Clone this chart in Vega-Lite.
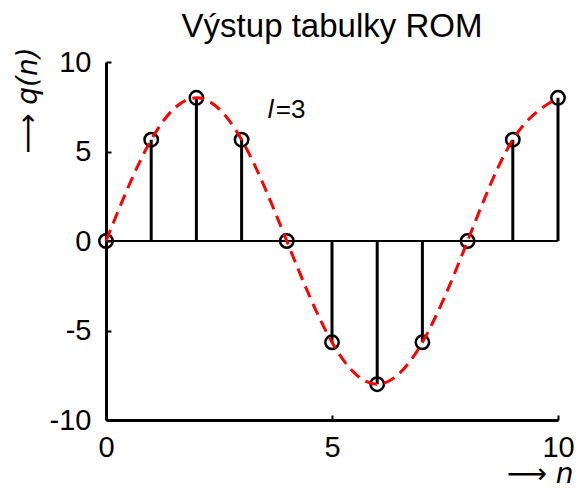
{
  "$schema": "https://vega.github.io/schema/vega-lite/v6.json",
  "autosize": "none",
  "width": 452,
  "height": 358,
  "padding": {"left": 106, "top": 62, "right": 20, "bottom": 68},
  "background": "white",
  "title": {
    "text": "Výstup tabulky ROM",
    "font": "Liberation Sans",
    "fontSize": 33,
    "fontWeight": "normal",
    "color": "black",
    "anchor": "middle",
    "frame": "group",
    "offset": -2
  },
  "config": {
    "view": {"stroke": null},
    "axis": {
      "grid": false,
      "domainColor": "black",
      "domainWidth": 3,
      "tickColor": "black",
      "tickWidth": 2,
      "tickSize": -5,
      "labelFont": "Liberation Sans",
      "labelFontSize": 29,
      "labelColor": "black",
      "titleFont": "DejaVu Sans",
      "titleFontSize": 28,
      "titleFontWeight": "normal",
      "titleFontStyle": "italic",
      "titleColor": "black"
    }
  },
  "data": {
    "values": [
      {"n": 0, "q": 0},
      {"n": 1, "q": 5.657},
      {"n": 2, "q": 8},
      {"n": 3, "q": 5.657},
      {"n": 4, "q": 0},
      {"n": 5, "q": -5.657},
      {"n": 6, "q": -8},
      {"n": 7, "q": -5.657},
      {"n": 8, "q": 0},
      {"n": 9, "q": 5.657},
      {"n": 10, "q": 8}
    ]
  },
  "encoding": {
    "x": {
      "field": "n",
      "type": "quantitative",
      "scale": {"domain": [0, 10], "nice": false, "zero": false},
      "axis": {
        "values": [0, 5, 10],
        "labelPadding": 18,
        "labelFlush": false,
        "title": "⟶ n",
        "titleAnchor": "end",
        "titleAlign": "right",
        "titleBaseline": "alphabetic",
        "titleX": 467,
        "titleY": 62
      }
    },
    "y": {
      "field": "q",
      "type": "quantitative",
      "scale": {"domain": [-10, 10], "nice": false, "zero": false},
      "axis": {
        "values": [-10, -5, 0, 5, 10],
        "labelExpr": "datum.value < 0 ? '-' + abs(datum.value) : '' + datum.value",
        "labelPadding": 20,
        "labelFlush": false,
        "title": "⟶  q(n)",
        "titleAngle": 270,
        "titleAlign": "center",
        "titleBaseline": "alphabetic",
        "titleX": -70,
        "titleY": 38
      }
    }
  },
  "layer": [
    {
      "mark": {"type": "rule", "color": "black", "strokeWidth": 1.5},
      "encoding": {"y": {"datum": 0}, "x": {"datum": 0}, "x2": {"datum": 10}}
    },
    {
      "mark": {"type": "rule", "color": "black", "strokeWidth": 3},
      "encoding": {"y2": {"datum": 0}}
    },
    {
      "mark": {"type": "point", "filled": false, "color": "black", "strokeWidth": 2.5, "size": 180, "opacity": 1}
    },
    {
      "mark": {"type": "line", "color": "#ff0000", "strokeWidth": 3, "strokeDash": [12, 7], "interpolate": "natural"}
    },
    {
      "data": {"values": [{"n": 3.58, "q": 6.87}]},
      "mark": {"type": "text", "text": "l", "font": "Liberation Sans", "fontSize": 26, "fontStyle": "italic", "align": "left", "baseline": "alphabetic", "color": "black"}
    },
    {
      "data": {"values": [{"n": 3.58, "q": 6.87}]},
      "mark": {"type": "text", "text": "=3", "font": "Liberation Sans", "fontSize": 26, "align": "left", "baseline": "alphabetic", "dx": 8, "color": "black"}
    }
  ]
}
